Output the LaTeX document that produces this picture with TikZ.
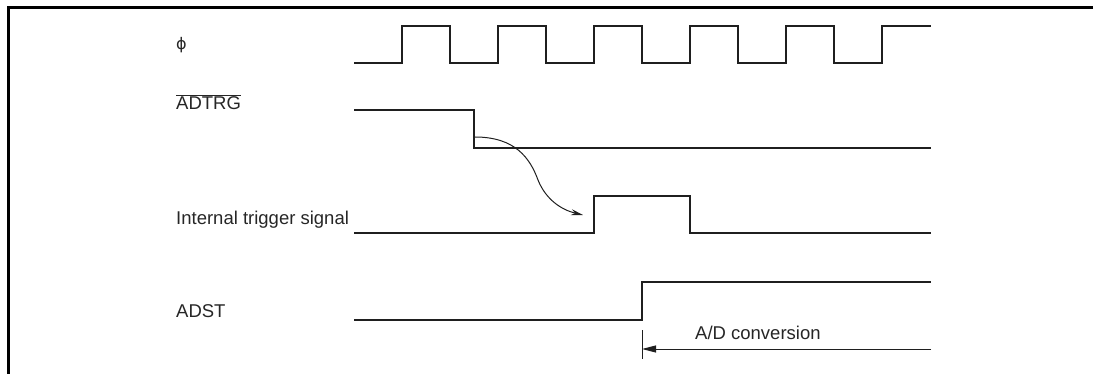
\documentclass[tikz,border=0pt]{standalone}
\usepackage{fontspec}
\setmainfont{Liberation Sans}
\newfontfamily\phifont{DejaVu Sans}
\usetikzlibrary{arrows.meta}
\begin{document}
\begin{tikzpicture}[x=1pt,y=-1pt,
  wave/.style={line width=2.2pt, line join=miter, color=black!88},
  lbl/.style={anchor=base west, inner sep=0pt, font=\fontsize{18.5}{20}\selectfont, text=black!85},
  thinline/.style={line width=1pt, color=black!88}]
\useasboundingbox (0,0) rectangle (1095,374);
% frame
\draw[line width=3pt] (1093,8) -- (8,8) -- (8,374);
% labels
\node[lbl] (lphi) at (176,50) {\phifont\fontsize{16}{18}\selectfont ϕ};
\node[lbl] (ladtrg) at (176,110) {$\overline{\hbox{ADTRG}}$};
\node[lbl] (lint) at (176,225) {Internal trigger signal};
\node[lbl] (ladst) at (176,317) {ADST};
% phi clock
\draw[wave] (354,63) -| (402,26) -| (450,63) -| (498,26) -| (546,63) -| (594,26)
  -| (642,63) -| (690,26) -| (738,63) -| (786,26) -| (834,63) -| (882,26) -- (931,26);
% ADTRG
\draw[wave] (354,110) -| (474,148) -- (931,148);
% internal trigger
\draw[wave] (354,233) -| (594,196) -| (690,233) -- (931,233);
% ADST
\draw[wave] (354,320) -| (642,282) -- (931,282);
% causal arrow
\coordinate (cs) at (475,137);
\coordinate (ce) at (583,215);
\draw[thinline, -{Stealth[length=12pt,width=6pt]}] (cs) .. controls (515,137) and (530,158) .. (538,180)
  .. controls (546,200) and (562,210) .. (ce);
% A/D conversion
\coordinate (tk1) at (642,330);
\coordinate (tk2) at (642,359);
\coordinate (as) at (931,349);
\coordinate (ae) at (642,349);
\draw[thinline] (tk1) -- (tk2);
\draw[thinline, -{Stealth[length=14pt,width=7pt,inset=0pt]}] (as) -- (ae);
\node[lbl] (lad) at (695,339) {A/D conversion};
\end{tikzpicture}
\end{document}
